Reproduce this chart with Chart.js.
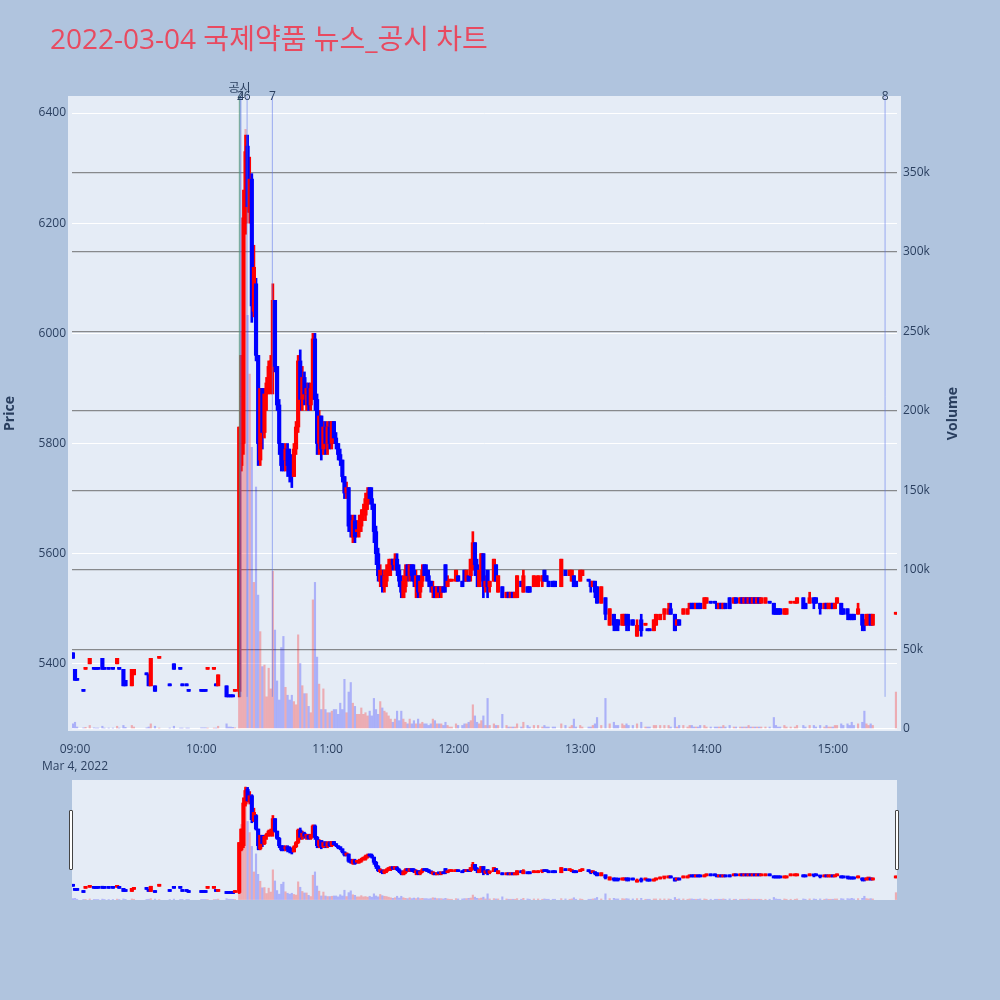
<!DOCTYPE html>
<html>
<head>
<meta charset="utf-8">
<title>2022-03-04 국제약품 뉴스_공시 차트</title>
<script src="https://cdn.jsdelivr.net/npm/chart.js@4.4.1/dist/chart.umd.min.js"></script>
<style>
  html, body { margin: 0; padding: 0; background: #b0c4de; }
  #wrap { position: relative; width: 1000px; height: 1000px; }
  #mainChart { position: absolute; left: 0; top: 0; }
  #sliderChart { position: absolute; left: 72px; top: 780px; background: #e5ecf6; }
  .handle { position: absolute; top: 810px; width: 2px; height: 58px; background: #fff; border: 1px solid #444; border-radius: 1px; }
</style>
</head>
<body>
<div id="wrap">
  <canvas id="mainChart" width="1000" height="1000"></canvas>
  <canvas id="sliderChart" width="825" height="120"></canvas>
  <div class="handle" style="left:69px"></div>
  <div class="handle" style="left:895px"></div>
</div>
<script>
const chartTitle = '2022-03-04 국제약품 뉴스_공시 차트';
const dateLabel = 'Mar 4, 2022';

// 1-minute candles
const times = [
  '08:59','09:00','09:01','09:04','09:05','09:07','09:09','09:10','09:11','09:13',
  '09:14','09:16','09:18','09:20','09:21','09:23','09:24','09:27','09:28','09:34',
  '09:35','09:36','09:38','09:40','09:45','09:47','09:50','09:51','09:53','09:54',
  '10:00','10:01','10:02','10:03','10:06','10:07','10:08','10:12','10:13','10:14',
  '10:15','10:16','10:18','10:19','10:20','10:21','10:22','10:23','10:24','10:25',
  '10:26','10:27','10:28','10:29','10:30','10:31','10:32','10:33','10:34','10:35',
  '10:36','10:37','10:38','10:39','10:40','10:41','10:42','10:43','10:44','10:45',
  '10:46','10:47','10:48','10:49','10:50','10:51','10:52','10:53','10:54','10:55',
  '10:56','10:57','10:58','10:59','11:00','11:01','11:02','11:03','11:04','11:05',
  '11:06','11:07','11:08','11:09','11:10','11:11','11:12','11:13','11:14','11:15',
  '11:16','11:17','11:18','11:19','11:20','11:21','11:22','11:23','11:24','11:25',
  '11:26','11:27','11:28','11:29','11:30','11:31','11:32','11:33','11:34','11:35',
  '11:36','11:37','11:38','11:39','11:40','11:41','11:42','11:43','11:44','11:45',
  '11:46','11:47','11:48','11:49','11:50','11:51','11:52','11:53','11:54','11:55',
  '11:56','11:57','11:58','11:59','12:01','12:02','12:04','12:05','12:06','12:07',
  '12:08','12:09','12:10','12:11','12:12','12:13','12:14','12:15','12:16','12:17',
  '12:19','12:20','12:21','12:23','12:25','12:26','12:27','12:28','12:29','12:30',
  '12:32','12:33','12:35','12:36','12:38','12:40','12:42','12:43','12:44','12:45',
  '12:47','12:48','12:51','12:53','12:55','12:56','12:57','12:58','13:00','13:01',
  '13:04','13:05','13:06','13:07','13:08','13:10','13:12','13:14','13:16','13:17',
  '13:18','13:20','13:21','13:22','13:23','13:25','13:27','13:29','13:31','13:32',
  '13:33','13:35','13:36','13:38','13:40','13:42','13:43','13:45','13:46','13:47',
  '13:49','13:51','13:52','13:53','13:54','13:55','13:56','13:57','13:59','14:00',
  '14:02','14:04','14:05','14:06','14:07','14:08','14:09','14:11','14:13','14:14',
  '14:16','14:17','14:18','14:19','14:20','14:21','14:22','14:23','14:24','14:25',
  '14:26','14:28','14:30','14:32','14:33','14:34','14:35','14:37','14:38','14:40',
  '14:42','14:43','14:46','14:47','14:49','14:51','14:52','14:54','14:56','14:57',
  '14:58','14:59','15:00','15:01','15:02','15:04','15:05','15:07','15:08','15:09',
  '15:10','15:12','15:14','15:15','15:16','15:17','15:18','15:19','15:30'
];
const opens = [
  5420,5390,5370,5350,5390,5400,5390,5390,5390,5410,
  5390,5390,5390,5400,5390,5390,5370,5360,5380,5380,
  5380,5360,5360,5410,5360,5400,5390,5360,5360,5350,
  5350,5350,5350,5390,5390,5360,5360,5360,5340,5340,
  5340,5350,5350,5760,5800,6200,6340,6220,6280,6040,
  6090,5960,5770,5900,5820,5890,5900,5930,5950,6060,
  5940,5870,5800,5790,5770,5790,5770,5770,5740,5790,
  5830,5950,5880,5920,5890,5900,5870,5900,5990,5880,
  5800,5850,5790,5830,5800,5830,5800,5840,5810,5800,
  5780,5770,5740,5710,5720,5650,5630,5660,5640,5640,
  5650,5670,5670,5690,5720,5700,5690,5640,5600,5550,
  5560,5540,5550,5570,5580,5590,5580,5590,5570,5550,
  5520,5540,5580,5560,5580,5570,5540,5560,5530,5550,
  5580,5570,5560,5550,5530,5540,5520,5540,5530,5540,
  5580,5540,5550,5550,5550,5560,5550,5570,5550,5560,
  5560,5580,5620,5580,5540,5560,5600,5540,5570,5540,
  5550,5580,5530,5540,5520,5530,5520,5530,5520,5520,
  5550,5530,5540,5540,5540,5540,5550,5570,5560,5550,
  5550,5550,5540,5570,5560,5550,5560,5550,5550,5560,
  5550,5550,5540,5550,5540,5510,5520,5470,5490,5480,
  5480,5470,5470,5490,5480,5480,5450,5480,5470,5460,
  5460,5460,5470,5480,5490,5490,5500,5490,5470,5480,
  5490,5490,5500,5510,5510,5500,5510,5510,5500,5510,
  5510,5510,5510,5500,5510,5500,5510,5520,5510,5520,
  5510,5520,5510,5520,5510,5520,5510,5520,5510,5520,
  5510,5510,5510,5510,5500,5500,5500,5490,5490,5510,
  5510,5510,5520,5510,5510,5520,5520,5510,5500,5510,
  5500,5500,5510,5500,5510,5510,5500,5500,5490,5490,
  5490,5490,5490,5480,5470,5480,5490,5470,5490
];
const highs = [
  5420,5390,5370,5350,5390,5410,5390,5390,5390,5410,
  5390,5390,5390,5410,5390,5390,5370,5390,5390,5380,
  5380,5410,5360,5410,5360,5400,5390,5360,5360,5350,
  5350,5350,5350,5390,5390,5360,5380,5360,5340,5340,
  5340,5350,5830,5960,6260,6360,6360,6320,6290,6160,
  6100,5960,5900,5900,5900,5920,5950,5960,6090,6060,
  5940,5880,5800,5800,5800,5800,5790,5780,5800,5840,
  5960,5970,5940,5930,5910,5910,5910,6000,6000,5890,
  5860,5850,5840,5840,5840,5840,5840,5840,5820,5800,
  5790,5770,5740,5730,5720,5670,5670,5670,5660,5670,
  5680,5690,5710,5720,5720,5720,5690,5650,5610,5580,
  5570,5570,5580,5590,5590,5590,5600,5600,5580,5560,
  5560,5580,5580,5580,5580,5580,5570,5560,5560,5580,
  5580,5580,5570,5550,5550,5540,5540,5540,5540,5540,
  5580,5560,5550,5550,5570,5560,5550,5570,5570,5560,
  5590,5640,5620,5590,5570,5600,5600,5560,5570,5550,
  5590,5580,5560,5540,5530,5530,5530,5530,5530,5560,
  5550,5570,5540,5540,5560,5560,5560,5570,5560,5550,
  5550,5550,5590,5570,5570,5570,5560,5550,5570,5570,
  5550,5550,5550,5550,5540,5540,5520,5500,5490,5480,
  5480,5490,5490,5490,5490,5480,5480,5490,5470,5460,
  5460,5480,5490,5490,5500,5510,5510,5490,5480,5480,
  5500,5500,5510,5510,5510,5510,5510,5510,5520,5520,
  5510,5510,5510,5510,5510,5510,5510,5520,5520,5520,
  5520,5520,5520,5520,5520,5520,5520,5520,5520,5520,
  5520,5520,5510,5510,5500,5500,5500,5500,5500,5510,
  5510,5520,5520,5510,5530,5520,5520,5510,5510,5510,
  5510,5510,5510,5510,5520,5510,5500,5500,5490,5490,
  5490,5510,5490,5480,5490,5490,5490,5490,5490
];
const lows = [
  5410,5370,5370,5350,5390,5400,5390,5390,5390,5390,
  5390,5390,5390,5400,5390,5360,5360,5360,5380,5380,
  5360,5360,5350,5410,5360,5390,5390,5360,5360,5350,
  5350,5350,5350,5390,5390,5360,5360,5340,5340,5340,
  5340,5350,5340,5750,5780,6180,6220,6200,6020,6030,
  5950,5760,5760,5790,5810,5860,5890,5890,5890,5930,
  5860,5780,5750,5750,5750,5740,5730,5720,5740,5780,
  5820,5860,5860,5870,5860,5860,5860,5880,5860,5780,
  5780,5770,5780,5780,5780,5790,5790,5800,5790,5770,
  5760,5730,5700,5700,5640,5630,5620,5620,5630,5630,
  5640,5660,5660,5680,5690,5680,5620,5580,5550,5540,
  5530,5530,5540,5560,5560,5570,5570,5560,5540,5520,
  5520,5530,5550,5550,5550,5540,5520,5520,5520,5540,
  5560,5550,5540,5530,5520,5520,5520,5520,5520,5530,
  5530,5540,5550,5550,5550,5550,5540,5550,5550,5550,
  5550,5570,5560,5540,5540,5550,5520,5530,5520,5530,
  5550,5550,5530,5520,5520,5520,5520,5520,5520,5520,
  5540,5530,5530,5530,5540,5540,5540,5550,5550,5540,
  5540,5540,5540,5560,5560,5550,5540,5540,5550,5560,
  5550,5530,5540,5520,5510,5510,5480,5470,5460,5460,
  5460,5470,5470,5460,5460,5470,5450,5450,5470,5460,
  5460,5460,5470,5480,5480,5490,5490,5460,5470,5470,
  5490,5490,5500,5500,5500,5500,5500,5500,5500,5510,
  5510,5510,5500,5500,5500,5500,5500,5500,5510,5510,
  5510,5510,5510,5510,5510,5510,5510,5510,5510,5510,
  5510,5510,5510,5490,5490,5490,5490,5490,5490,5510,
  5510,5510,5500,5500,5510,5500,5510,5490,5500,5500,
  5500,5500,5500,5500,5510,5490,5490,5480,5480,5480,
  5480,5490,5460,5460,5470,5470,5470,5470,5490
];
const closes = [
  5410,5370,5370,5350,5390,5410,5390,5390,5390,5390,
  5390,5390,5390,5410,5390,5360,5360,5390,5390,5380,
  5360,5410,5350,5410,5360,5390,5390,5360,5360,5350,
  5350,5350,5350,5390,5390,5360,5380,5340,5340,5340,
  5340,5350,5830,5960,6210,6330,6230,6280,6050,6120,
  5960,5800,5900,5820,5890,5910,5940,5950,6060,5940,
  5870,5800,5760,5770,5790,5760,5750,5740,5790,5830,
  5950,5880,5920,5890,5900,5870,5900,5990,5880,5800,
  5850,5790,5830,5800,5830,5800,5840,5810,5800,5780,
  5770,5740,5710,5720,5650,5640,5660,5630,5640,5660,
  5670,5680,5700,5710,5700,5690,5640,5600,5560,5570,
  5540,5560,5570,5580,5590,5580,5590,5570,5550,5530,
  5550,5570,5560,5580,5560,5550,5560,5530,5550,5570,
  5560,5560,5550,5540,5540,5520,5540,5530,5540,5530,
  5540,5550,5550,5550,5570,5550,5540,5550,5570,5550,
  5590,5620,5580,5560,5570,5600,5540,5550,5540,5550,
  5590,5550,5560,5520,5530,5520,5530,5520,5530,5560,
  5540,5560,5530,5530,5560,5560,5560,5550,5550,5540,
  5540,5540,5590,5560,5570,5570,5540,5540,5570,5570,
  5550,5540,5550,5530,5510,5540,5490,5500,5470,5470,
  5470,5490,5490,5470,5470,5470,5470,5460,5470,5460,
  5460,5480,5490,5490,5500,5500,5490,5460,5480,5470,
  5500,5500,5510,5500,5500,5510,5500,5500,5520,5520,
  5510,5510,5500,5510,5500,5510,5500,5500,5520,5510,
  5520,5510,5520,5510,5520,5510,5520,5510,5520,5510,
  5520,5520,5510,5490,5490,5490,5490,5500,5500,5510,
  5510,5520,5500,5500,5520,5510,5510,5500,5510,5500,
  5510,5510,5500,5510,5520,5490,5490,5490,5480,5480,
  5480,5500,5470,5470,5490,5490,5470,5490,5490
];
const volumes = [
  3000,4000,1000,500,800,2000,500,300,300,1500,
  300,300,300,1500,300,2000,800,2000,1000,500,
  1000,3000,1500,300,300,1500,300,300,300,300,
  500,500,500,300,300,300,1500,3000,1000,1000,
  800,500,80000,250000,180000,377000,260000,223000,177000,92000,
  152000,84000,61000,39000,40000,20000,38000,25000,99000,62000,
  30000,18000,51000,58000,26000,21000,18000,21000,17000,15000,
  59000,41000,27000,22000,22000,14000,10000,81000,92000,45000,
  28000,12000,25000,12000,10000,10000,11000,12000,12000,9000,
  16000,12000,31000,10000,23000,29000,16000,14000,9000,9000,
  13000,9000,10000,8000,11000,8000,19000,12000,9000,17000,
  13000,11000,10000,8000,6000,4000,6000,11000,5000,11000,
  6000,4000,3000,6000,3000,5000,3000,6000,3000,4000,
  3000,3000,2000,3000,6000,5000,3000,3000,3000,2000,
  4000,2000,1000,1000,3000,2000,2000,3000,3000,4000,
  5000,15000,8000,4000,3000,5000,8000,2000,19000,2000,
  3000,2000,2000,9000,2000,1000,1000,1000,1000,3000,
  1000,4000,2000,1000,2000,2000,1000,2000,1000,1000,
  1000,1000,3000,2000,1000,2000,6000,1000,2000,1000,
  1000,1000,2000,3000,7000,2000,19000,3000,4000,2000,
  2000,3000,2000,3000,2000,2000,3000,4000,1000,1000,
  1000,2000,2000,2000,2000,2000,1000,7000,1000,2000,
  2000,1000,2000,2000,1000,1000,1000,2000,2000,1000,
  1000,1000,1000,1000,1000,2000,1000,2000,1000,1000,
  1000,1000,1000,1000,2000,1000,1000,1000,1000,1000,
  1000,1000,1000,7000,2000,1000,1000,2000,1000,1000,
  1000,2000,2000,1000,2000,2000,1000,2000,1000,2000,
  1000,1000,1000,2000,2000,3000,2000,3000,2000,4000,
  2000,3000,4000,11000,3000,2000,3000,2000,23000
];

// news / disclosure markers
const newsTimes = ['10:18:10', '10:18:25', '10:18:50', '10:21:45', '10:33:45', '15:24:50'];
const newsLabels = ['공시', '2', '4', '6', '7', '8'];

// axis ticks
const timeTicks = ['09:00', '10:00', '11:00', '12:00', '13:00', '14:00', '15:00'];
const priceTicks = [5400, 5600, 5800, 6000, 6200, 6400];
const volumeTicks = [0, 50000, 100000, 150000, 200000, 250000, 300000, 350000];

const UP = '#ff0000';
const DOWN = '#0000ff';
const FONT = '"Open Sans", "Noto Sans CJK KR", sans-serif';
const TEXT = '#2a3f5f';

// minutes after 09:00
function toMin(t) {
    const p = t.split(':').map(Number);
    return (p[0] - 9) * 60 + p[1] + (p[2] || 0) / 60;
}

const xs = times.map(toMin);

// candle direction like plotly: equal open/close follows previous close
const ups = [];
closes.forEach((c, i) => {
    const o = opens[i];
    const pc = i > 0 ? closes[i - 1] : o;
    let up;
    if (c > o) up = true;
    else if (c < o) up = false;
    else if (c > pc) up = true;
    else if (c < pc) up = false;
    else up = i > 0 ? ups[i - 1] : false;
    ups.push(up);
});

const X_MIN = -1.43, X_MAX = 390.5;
const P_MIN = 5278, P_MAX = 6431;
const V_MIN = -1500, V_MAX = 398000;

function makeDatasets() {
    return [
        {
            label: 'Volume',
            yAxisID: 'yv',
            data: xs.map((x, i) => ({ x: x, y: volumes[i] })),
            backgroundColor: ups.map(u => u ? 'rgba(255,0,0,0.27)' : 'rgba(0,0,255,0.25)'),
            barThickness: 1.5,
            grouped: false,
            order: 3
        },
        {
            label: 'Wick',
            yAxisID: 'y',
            data: xs.map((x, i) => ({ x: x, y: [lows[i], highs[i]] })),
            backgroundColor: ups.map(u => u ? UP : DOWN),
            barThickness: 2,
            minBarLength: 2,
            grouped: false,
            order: 2
        },
        {
            label: 'Body',
            yAxisID: 'y',
            data: xs.map((x, i) => ({ x: x, y: [opens[i], closes[i]] })),
            backgroundColor: ups.map(u => u ? UP : DOWN),
            barThickness: 3.5,
            minBarLength: 2,
            grouped: false,
            order: 1
        }
    ];
}

const decor = {
    id: 'decor',
    beforeDraw(chart) {
        const { ctx, chartArea: a } = chart;
        ctx.save();
        ctx.fillStyle = '#e5ecf6';
        ctx.fillRect(a.left - 4, a.top, a.right - a.left + 8, a.bottom - a.top);
        ctx.restore();
    },
    afterDatasetsDraw(chart) {
        const { ctx, chartArea: a, scales } = chart;
        const yLow = scales.y.getPixelForValue(5340);
        ctx.save();
        newsTimes.forEach((t, i) => {
            const px = scales.x.getPixelForValue(toMin(t));
            ctx.beginPath();
            ctx.strokeStyle = i === 0 ? 'rgba(70,160,70,0.6)' : 'rgba(90,115,235,0.55)';
            ctx.lineWidth = i === 0 ? 1.5 : 1;
            ctx.moveTo(px, a.top);
            ctx.lineTo(px, yLow);
            ctx.stroke();
        });
        ctx.fillStyle = TEXT;
        ctx.textAlign = 'center';
        ctx.textBaseline = 'middle';
        ctx.font = '12px ' + FONT;
        newsTimes.forEach((t, i) => {
            const px = scales.x.getPixelForValue(toMin(t));
            ctx.fillText(newsLabels[i], px, i === 0 ? a.top - 7 : a.top + 1);
        });
        ctx.restore();
    },
    afterDraw(chart) {
        const { ctx, chartArea: a } = chart;
        ctx.save();
        ctx.fillStyle = '#e84a60';
        ctx.font = '28px ' + FONT;
        ctx.textAlign = 'left';
        ctx.textBaseline = 'middle';
        ctx.fillText(chartTitle, 50, 41);
        // right axis title, rotated like the left one
        ctx.translate(953, (a.top + a.bottom) / 2);
        ctx.rotate(-Math.PI / 2);
        ctx.fillStyle = TEXT;
        ctx.font = 'bold 14px ' + FONT;
        ctx.textAlign = 'center';
        ctx.fillText('Volume', 0, 0);
        ctx.restore();
    }
};

Chart.defaults.font.family = FONT;
Chart.defaults.color = TEXT;

new Chart(document.getElementById('mainChart'), {
    type: 'bar',
    data: { datasets: makeDatasets() },
    options: {
        responsive: false,
        animation: false,
        events: [],
        layout: { padding: { top: 96, left: 0, right: 0, bottom: 0 } },
        plugins: {
            legend: { display: false },
            tooltip: { enabled: false }
        },
        scales: {
            x: {
                type: 'linear',
                min: X_MIN,
                max: X_MAX,
                offset: false,
                afterFit: s => { s.height = 269; },
                afterBuildTicks: s => { s.ticks = timeTicks.map(t => ({ value: toMin(t) })); },
                grid: { display: false },
                border: { display: false },
                ticks: {
                    padding: 2,
                    maxRotation: 0,
                    autoSkip: false,
                    color: TEXT,
                    font: { size: 12, lineHeight: 1.4 },
                    callback: (v, i) => i === 0 ? [timeTicks[0], dateLabel] : timeTicks[i]
                }
            },
            y: {
                position: 'left',
                min: P_MIN,
                max: P_MAX,
                afterFit: s => { s.width = 72; },
                afterBuildTicks: s => { s.ticks = priceTicks.map(v => ({ value: v })); },
                grid: { color: '#ffffff', lineWidth: 1, drawTicks: false },
                border: { display: false },
                ticks: { padding: 6, color: TEXT, font: { size: 12 }, callback: v => String(v) },
                title: {
                    display: true,
                    text: 'Price',
                    color: TEXT,
                    padding: { top: 2, bottom: 0 },
                    font: { size: 14, weight: 'bold' }
                }
            },
            yv: {
                position: 'right',
                min: V_MIN,
                max: V_MAX,
                afterFit: s => { s.width = 103; },
                afterBuildTicks: s => { s.ticks = volumeTicks.map(v => ({ value: v })); },
                grid: {
                    color: c => c.tick && c.tick.value === 0 ? '#ffffff' : 'rgba(95,95,95,0.7)',
                    lineWidth: 1.2,
                    drawTicks: false
                },
                border: { display: false },
                ticks: {
                    padding: 6,
                    color: TEXT,
                    font: { size: 12 },
                    callback: v => v === 0 ? '0' : (v / 1000) + 'k'
                }
            }
        }
    },
    plugins: [decor]
});

// range slider overview
new Chart(document.getElementById('sliderChart'), {
    type: 'bar',
    data: { datasets: makeDatasets() },
    options: {
        responsive: false,
        animation: false,
        events: [],
        layout: { padding: 0 },
        plugins: {
            legend: { display: false },
            tooltip: { enabled: false }
        },
        scales: {
            x: { type: 'linear', display: false, min: X_MIN, max: X_MAX, offset: false },
            y: { display: false, min: P_MIN, max: P_MAX },
            yv: { display: false, min: V_MIN, max: V_MAX }
        }
    }
});
</script>
</body>
</html>
